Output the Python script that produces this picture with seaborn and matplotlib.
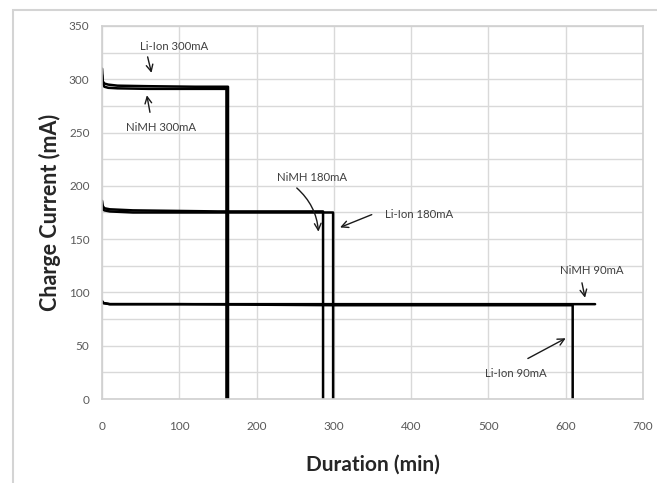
import pandas as pd
import seaborn as sns
import matplotlib.pyplot as plt
from matplotlib.patches import Rectangle

sns.set_theme(style="white")
plt.rcParams['font.family'] = ['Lato', 'DejaVu Sans']

# Charge curves: (duration min, current mA)
liion_300_t = [0, 1, 3, 8, 20, 60, 120, 163, 163]
liion_300_i = [310, 298, 296, 295, 294, 293.5, 293, 293, 0]
nimh_300_t = [0, 1, 3, 8, 20, 60, 120, 161, 161]
nimh_300_i = [304, 296, 293, 292, 291.5, 291, 291, 291, 0]
nimh_180_t = [0, 1, 3, 10, 40, 150, 286, 286]
nimh_180_i = [186, 181, 179, 178, 177, 176, 176, 0]
liion_180_t = [0, 1, 3, 10, 40, 150, 299, 299]
liion_180_i = [181, 178, 177, 176, 175, 175, 175, 0]
liion_90_t = [0, 2, 10, 100, 300, 609, 609]
liion_90_i = [92, 90, 89, 89, 88, 88, 0]
nimh_90_t = [0, 2, 10, 100, 300, 638]
nimh_90_i = [91, 90, 89, 89, 89, 89]

series = {
    "Li-Ion 300mA": (liion_300_t, liion_300_i),
    "NiMH 300mA": (nimh_300_t, nimh_300_i),
    "NiMH 180mA": (nimh_180_t, nimh_180_i),
    "Li-Ion 180mA": (liion_180_t, liion_180_i),
    "Li-Ion 90mA": (liion_90_t, liion_90_i),
    "NiMH 90mA": (nimh_90_t, nimh_90_i),
}

x_ticks = [0, 100, 200, 300, 400, 500, 600, 700]
y_ticks = [0, 50, 100, 150, 200, 250, 300, 350]

# label text position, arrow start, arrow tip (data units)
labels = [
    ("Li-Ion 300mA", (93, 331), (59, 321), (64, 306)),
    ("NiMH 300mA", (76, 255), (62, 269), (58, 285)),
    ("NiMH 180mA", (272, 208), (252, 198), (280, 157)),
    ("Li-Ion 180mA", (410, 173), (349, 173), (308, 161)),
    ("NiMH 90mA", (634, 121), (621, 109), (625, 95)),
    ("Li-Ion 90mA", (535, 24), (551, 38), (600, 57)),
]

f = plt.figure(figsize=(6.57, 4.83), dpi=100)
ax = f.add_axes([0.1553, 0.1739, 0.8234, 0.7723])

# outer chart frame (Excel style)
f.patches.append(Rectangle((13 / 657, -0.1), 1.2, 1 - 10 / 483 + 0.1,
                           transform=f.transFigure, fill=False,
                           edgecolor="#d4d4d4", lw=1.5))

for name, (t, i) in series.items():
    df = pd.DataFrame({"t": t, "i": i})
    sns.lineplot(data=df, x="t", y="i", sort=False, estimator=None,
                 color="black", lw=1.8, ax=ax)

ax.set_xlim(0, 700)
ax.set_ylim(0, 350)
ax.set_xticks(x_ticks)
ax.set_yticks(y_ticks)
ax.set_yticks(range(0, 351, 25), minor=True)
ax.grid(True, which="both", color="#d9d9d9", lw=1)
ax.set_axisbelow(True)
for s in ax.spines.values():
    s.set_color("#d0d0d0")
    s.set_linewidth(1.2)
ax.tick_params(axis="both", which="both", length=0, labelsize=8.5,
               labelcolor="#595959")
ax.tick_params(axis="x", pad=16)
ax.tick_params(axis="y", pad=9)

ax.set_xlabel("Duration (min)", fontsize=15, fontweight="bold",
              color="#262626", labelpad=16)
ax.set_ylabel("Charge Current (mA)", fontsize=15.5, fontweight="bold",
              color="#262626", labelpad=6)

for text, pos, start, tip in labels:
    ax.text(pos[0], pos[1], text, fontsize=8.2, color="#404040",
            ha="center", va="center")
    rad = -0.2 if text == "NiMH 180mA" else 0
    ax.annotate("", xy=tip, xytext=start,
                arrowprops=dict(arrowstyle="->", color="#1a1a1a", lw=1,
                                shrinkA=0, shrinkB=0,
                                connectionstyle=f"arc3,rad={rad}"))

f.savefig("out.png", dpi=100)
